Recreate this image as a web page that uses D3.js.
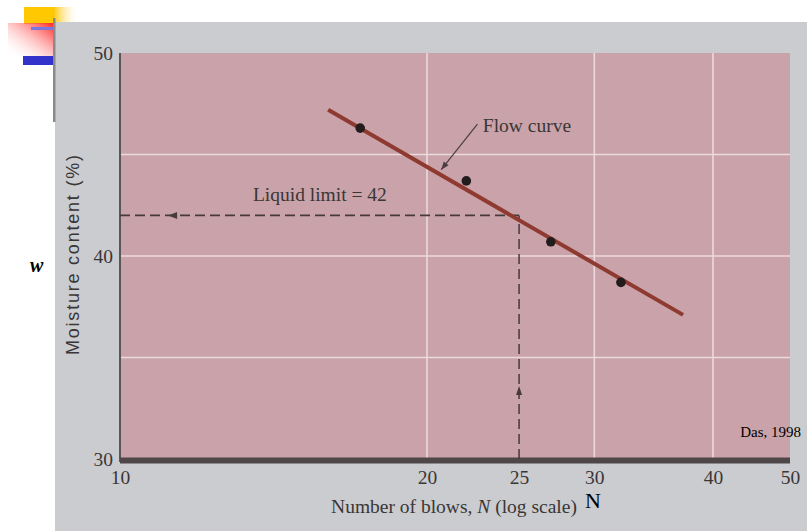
<!DOCTYPE html>
<html>
<head>
<meta charset="utf-8">
<script src="https://cdn.jsdelivr.net/npm/d3@7"></script>
<style>
    body { margin: 0; background: #fff; }
    svg { display: block; }
    .scan text { font-family: "Liberation Serif", serif; fill: #3a3636; }
</style>
</head>
<body>
<svg id="chart" width="807" height="531"></svg>
<script>
// ticks and grid
const xTicks = [10, 20, 25, 30, 40, 50];
const yTicks = [30, 40, 50];
const xGrid = [20, 30, 40];
const yGrid = [35, 40, 45];

// measured points (N, w)
const blows = [17.2, 22, 27, 32];
const moisture = [46.3, 43.7, 40.7, 38.7];

// flow curve ends
const flowN = [16, 37.2];
const flowW = [47.2, 37.1];

// liquid limit read at N = 25
const llN = 25;
const llW = 42;

const svg = d3.select("#chart");

// slide decoration
const defs = svg.append("defs");
const gY = defs.append("linearGradient").attr("id", "gy");
gY.append("stop").attr("offset", "0").attr("stop-color", "#ffc400");
gY.append("stop").attr("offset", "1").attr("stop-color", "#fff").attr("stop-opacity", 0);
const gR = defs.append("linearGradient").attr("id", "gr").attr("x1", 1).attr("y1", 0).attr("x2", 0).attr("y2", 1);
gR.append("stop").attr("offset", "0").attr("stop-color", "#ff2020");
gR.append("stop").attr("offset", "1").attr("stop-color", "#fff").attr("stop-opacity", 0);

svg.append("rect").attr("x", 24).attr("y", 7).attr("width", 30).attr("height", 17).attr("fill", "#ffc800");
svg.append("rect").attr("x", 53).attr("y", 7).attr("width", 26).attr("height", 17).attr("fill", "url(#gy)");
svg.append("rect").attr("x", 8).attr("y", 23).attr("width", 46).attr("height", 33).attr("fill", "url(#gr)");
svg.append("rect").attr("x", 23).attr("y", 56).attr("width", 31).attr("height", 9).attr("fill", "#3333cc");
svg.append("rect").attr("x", 31).attr("y", 27).attr("width", 24).attr("height", 3).attr("fill", "#7777dd");

// scanned figure
const scan = svg.append("g").attr("class", "scan");
scan.append("rect").attr("x", 55).attr("y", 22).attr("width", 752).attr("height", 509).attr("fill", "#cbccd0");
svg.append("rect").attr("x", 53).attr("y", 18).attr("width", 2.5).attr("height", 104).attr("fill", "#8a8a8a");

// the printed axis is not a perfect log scale, so pin it at the printed ticks
const x = d3.scaleLog().domain([10, 20, 40, 50]).range([120, 427, 713, 790]);
const y = d3.scaleLinear().domain([30, 50]).range([459, 53]);

scan.append("rect")
    .attr("x", x(10)).attr("y", y(50))
    .attr("width", x(50) - x(10)).attr("height", y(30) - y(50))
    .attr("fill", "#c9a3a9");

scan.selectAll(".vgrid").data(xGrid).join("line")
    .attr("x1", d => x(d)).attr("x2", d => x(d))
    .attr("y1", y(50)).attr("y2", y(30))
    .attr("stroke", "#ecd9dd").attr("stroke-width", 1.6);
scan.selectAll(".hgrid").data(yGrid).join("line")
    .attr("x1", x(10)).attr("x2", x(50))
    .attr("y1", d => y(d)).attr("y2", d => y(d))
    .attr("stroke", "#ecd9dd").attr("stroke-width", 1.6);

// axes
const xAxis = d3.axisBottom(x).tickValues(xTicks).tickFormat(d3.format("d")).tickSize(0).tickPadding(9);
const yAxis = d3.axisLeft(y).tickValues(yTicks).tickFormat(d3.format("d")).tickSize(0).tickPadding(7);

const gx = scan.append("g").attr("transform", `translate(0,${y(30) + 2})`).call(xAxis);
gx.select(".domain").remove();
gx.selectAll("text").attr("font-family", "Liberation Serif").attr("font-size", 19.5).attr("fill", "#3d3d3d");

const gyA = scan.append("g").attr("transform", `translate(${x(10)},0)`).call(yAxis);
gyA.select(".domain").remove();
gyA.selectAll("text").attr("font-family", "Liberation Serif").attr("font-size", 19.5).attr("fill", "#3d3d3d");

scan.append("line").attr("x1", x(10)).attr("x2", x(10)).attr("y1", y(50)).attr("y2", y(30) + 3)
    .attr("stroke", "#5a5556").attr("stroke-width", 2);
scan.append("line").attr("x1", x(10)).attr("x2", x(50)).attr("y1", y(30) + 1.5).attr("y2", y(30) + 1.5)
    .attr("stroke", "#4e4648").attr("stroke-width", 6);

// liquid limit dashes
const dashColor = "#463a3c";
scan.append("line")
    .attr("x1", x(10)).attr("x2", x(llN)).attr("y1", y(llW)).attr("y2", y(llW))
    .attr("stroke", dashColor).attr("stroke-width", 1.8).attr("stroke-dasharray", "10,5");
scan.append("line")
    .attr("x1", x(llN)).attr("x2", x(llN)).attr("y1", y(30)).attr("y2", y(llW))
    .attr("stroke", dashColor).attr("stroke-width", 1.5).attr("stroke-dasharray", "10,5");

// arrowheads on the dashes
const ax = x(11.3), ay = y(llW);
scan.append("path").attr("d", `M${ax - 6},${ay} L${ax + 3},${ay - 3.5} L${ax + 3},${ay + 3.5} Z`).attr("fill", dashColor);
const bx = x(llN), by = y(33.3);
scan.append("path").attr("d", `M${bx},${by - 6} L${bx - 3},${by + 3} L${bx + 3},${by + 3} Z`).attr("fill", dashColor);

scan.append("text").attr("x", x(13.5)).attr("y", y(42.7))
    .attr("font-size", 19.5).text("Liquid limit = 42");

// flow curve
const line = d3.line().x(d => x(d[0])).y(d => y(d[1]));
scan.append("path")
    .datum(d3.zip(flowN, flowW))
    .attr("d", line)
    .attr("stroke", "#8e3a30").attr("stroke-width", 4).attr("fill", "none");

scan.selectAll(".pt").data(d3.zip(blows, moisture)).join("circle")
    .attr("cx", d => x(d[0])).attr("cy", d => y(d[1])).attr("r", 4.8)
    .attr("fill", "#231c1d");

// flow curve label with pointer
const tx = x(22.6), ty = y(46.5), hx = x(20.7), hy = y(44.25);
scan.append("line").attr("x1", tx).attr("y1", ty).attr("x2", hx).attr("y2", hy)
    .attr("stroke", "#4a3e40").attr("stroke-width", 1.2);
const ang = Math.atan2(hy - ty, hx - tx);
const hl = 8, hw = 3;
scan.append("path")
    .attr("d", `M${hx},${hy} L${hx - hl * Math.cos(ang) + hw * Math.sin(ang)},${hy - hl * Math.sin(ang) - hw * Math.cos(ang)} L${hx - hl * Math.cos(ang) - hw * Math.sin(ang)},${hy - hl * Math.sin(ang) + hw * Math.cos(ang)} Z`)
    .attr("fill", "#4a3e40");
scan.append("text").attr("x", x(22.9)).attr("y", y(46.1))
    .attr("font-size", 19.5).text("Flow curve");

// axis titles
scan.append("text")
    .attr("transform", `translate(79,255) rotate(-90)`)
    .attr("text-anchor", "middle").attr("font-family", "Liberation Sans").attr("font-size", 18)
    .attr("textLength", 200).attr("lengthAdjust", "spacing")
    .style("font-family", "'Liberation Sans', sans-serif").attr("fill", "#444")
    .text("Moisture content (%)");

const xt = scan.append("text").attr("x", 454).attr("y", 513)
    .attr("text-anchor", "middle").attr("font-size", 19.5).attr("fill", "#3d3d3d");
xt.append("tspan").text("Number of blows, ");
xt.append("tspan").attr("font-style", "italic").text("N");
xt.append("tspan").text(" (log scale)");

// slide labels
svg.append("text").attr("x", 30).attr("y", 272).attr("font-family", "Liberation Serif")
    .attr("font-style", "italic").attr("font-weight", "bold").attr("font-size", 20).attr("fill", "#000").text("w");
svg.append("text").attr("x", 585).attr("y", 508).attr("font-family", "Liberation Serif")
    .attr("font-size", 22).attr("fill", "#000").text("N");
svg.append("text").attr("x", 801).attr("y", 437).attr("text-anchor", "end").attr("font-family", "Liberation Serif")
    .attr("font-size", 15).attr("fill", "#000").text("Das, 1998");
</script>
</body>
</html>
